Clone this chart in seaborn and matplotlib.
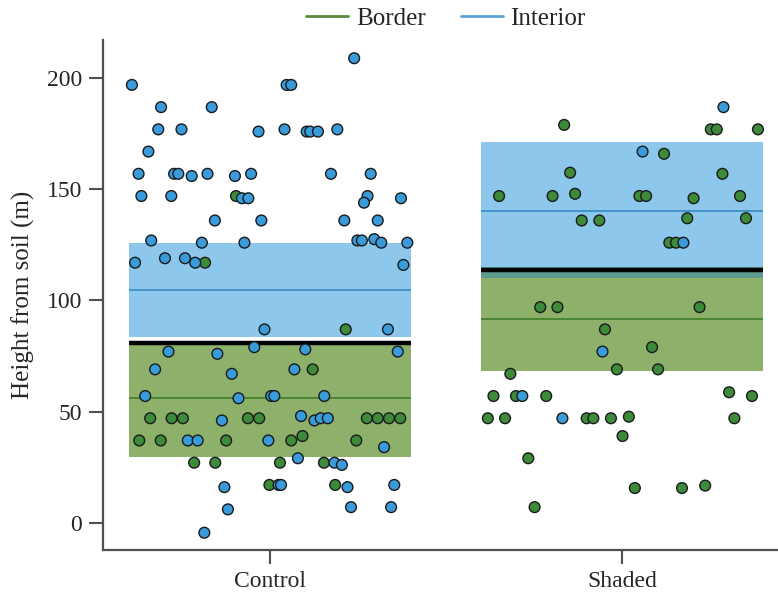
import numpy as np
import pandas as pd
import matplotlib
matplotlib.use("Agg")
import matplotlib.pyplot as plt
from matplotlib.lines import Line2D
import seaborn as sns

# ---------------- data ----------------
groups = ["Control", "Shaded"]
zones = ["Border", "Interior"]

# jitter offsets and heights (m)
ctrl_int_x = [-0.393, 0.239, 0.047, 0.060, -0.310, -0.166, -0.318, -0.252, -0.033, 0.041,
              0.104, 0.114, 0.136, 0.191, -0.346, -0.374, -0.273, -0.261, -0.223, -0.178,
              -0.100, -0.054, 0.173, 0.286, -0.366, -0.281, -0.080, -0.062, 0.277, 0.267,
              0.372, -0.157, -0.025, 0.211, 0.306, -0.338, -0.194, -0.073, 0.248, 0.261,
              0.296, 0.316, 0.390, -0.384, -0.299, -0.242, -0.213, 0.379, -0.016, 0.335,
              -0.289, -0.150, -0.045, 0.100, 0.363, -0.327, -0.109, 0.069, -0.355, -0.090,
              0.003, 0.012, 0.154, -0.137, 0.088, 0.126, 0.144, 0.164, -0.234, -0.206,
              -0.005, 0.324, 0.079, 0.183, 0.204, -0.130, 0.024, 0.031, 0.220, 0.353,
              -0.120, 0.230, 0.344, -0.187]
ctrl_int_y = [197, 209, 197, 197, 187, 187, 177, 177, 176, 177,
              176, 176, 176, 177, 167, 157, 157, 157, 156, 157,
              156, 157, 157, 157, 147, 147, 146, 146, 147, 144,
              146, 136, 136, 136, 136, 127, 126, 126, 127, 127,
              127.6, 126, 126, 117, 119, 119, 117, 116, 87, 87,
              77, 76, 79, 78, 77, 69, 67, 69, 57, 56,
              57, 57, 57, 46, 48, 46, 47, 47, 37, 37,
              37, 34, 29, 27, 26, 16, 17, 17, 16, 17,
              6, 7, 7, -4.5]
ctrl_bor_x = [-0.097, -0.185, 0.215, 0.121, -0.341, -0.280, -0.248, -0.063, -0.031, 0.275,
              0.306, 0.338, 0.370, -0.372, -0.311, -0.125, 0.060, 0.092, 0.245, -0.216,
              -0.156, 0.028, 0.153, -0.002, 0.185]
ctrl_bor_y = [147, 117, 87, 69, 47, 47, 47, 47, 47, 47,
              47, 47, 47, 37, 37, 37, 37, 39, 37, 27,
              27, 27, 27, 17, 17]
shd_int_x = [0.289, 0.059, 0.175, -0.055, -0.283, -0.169]
shd_int_y = [187, 167, 126, 77, 57, 47]
shd_bor_x = [-0.164, 0.253, 0.270, 0.387, 0.120, -0.147, 0.286, -0.349, -0.197, -0.133,
             0.050, 0.069, 0.204, 0.336, -0.114, -0.064, 0.186, 0.353, 0.135, 0.154,
             -0.232, -0.183, 0.221, -0.048, 0.086, -0.014, 0.103, -0.317, -0.365, -0.301,
             -0.215, 0.305, 0.370, -0.381, -0.332, -0.100, -0.081, -0.031, 0.020, 0.320,
             0.002, -0.266, 0.037, 0.171, 0.237, -0.248]
shd_bor_y = [179, 177, 177, 177, 166, 157.5, 157, 147, 147, 148,
             147, 147, 146, 147, 136, 136, 137, 137, 126, 126,
             97, 97, 97, 87, 79, 69, 69, 67, 57, 57,
             57, 58.7, 57, 47, 47, 47, 47, 47, 47.7, 47,
             39, 29, 15.6, 15.6, 16.7, 7]

# summary bands (lower, mean, upper) per group
border_low = [29.6, 68.3]
border_mean = [56.1, 91.7]
border_high = [80.9, 115.0]
interior_low = [83.6, 110.3]
interior_mean = [104.7, 140.3]
interior_high = [125.9, 171.3]
overall_mean = [80.9, 113.8]

# ---------------- styles ----------------
sns.set_style("ticks")
plt.rcParams["font.family"] = ["Liberation Serif", "DejaVu Serif"]

c_blue_pt = "#3A9BDA"
c_green_pt = "#3D8B3A"
c_blue_fill = "#8DC8EC"
c_green_fill = "#8DB06A"
c_overlap_fill = "#5E9A90"
c_blue_line = "#3E8EC6"
c_green_line = "#44832C"
spine_col = "#505050"

rows = []
for gi, (xs, ys) in enumerate([(ctrl_bor_x, ctrl_bor_y), (shd_bor_x, shd_bor_y)]):
    for x, y in zip(xs, ys):
        rows.append({"pos": gi + x, "height": y, "zone": "Border"})
for gi, (xs, ys) in enumerate([(ctrl_int_x, ctrl_int_y), (shd_int_x, shd_int_y)]):
    for x, y in zip(xs, ys):
        rows.append({"pos": gi + x, "height": y, "zone": "Interior"})
df = pd.DataFrame(rows)

fig = plt.figure(figsize=(7.78, 5.93), dpi=100)
ax = fig.add_axes([0.132, 0.0717, 0.868, 0.8608])

width = 0.8
xpos = np.arange(len(groups))
ilo, ihi = np.array(interior_low), np.array(interior_high)
blo, bhi = np.array(border_low), np.array(border_high)
ax.bar(xpos, ihi - ilo, bottom=ilo, width=width, color=c_blue_fill, zorder=1, linewidth=0)
ax.bar(xpos, bhi - blo, bottom=blo, width=width, color=c_green_fill, zorder=1, linewidth=0)
# overlap of the two bands
olo = np.maximum(ilo, blo)
ohi = np.minimum(ihi, bhi)
ov = np.clip(ohi - olo, 0, None)
ax.bar(xpos, ov, bottom=olo, width=width, color=c_overlap_fill, zorder=1, linewidth=0)

ax.hlines(interior_mean, xpos - width / 2, xpos + width / 2, color=c_blue_line, lw=1.3, zorder=2)
ax.hlines(border_mean, xpos - width / 2, xpos + width / 2, color=c_green_line, lw=1.3, zorder=2)
ax.hlines(overall_mean, xpos - width / 2, xpos + width / 2, color="black", lw=3.2, zorder=2)

sns.scatterplot(data=df, x="pos", y="height", hue="zone",
                palette={"Border": c_green_pt, "Interior": c_blue_pt},
                s=60, edgecolor="#1a1a1a", linewidth=1.0, legend=False, ax=ax, zorder=3)

ax.set_xlim(-0.476, 1.444)
ax.set_ylim(-12.5, 217.2)
ax.set_xticks(xpos)
ax.set_xticklabels(groups)
ax.set_yticks([0, 50, 100, 150, 200])
ax.set_xlabel("")
ax.set_ylabel("Height from soil (m)", fontsize=18, labelpad=8)
ax.tick_params(axis="both", labelsize=17, length=10, width=1.5, color=spine_col, pad=5)
for side in ["top", "right"]:
    ax.spines[side].set_visible(False)
for side in ["left", "bottom"]:
    ax.spines[side].set_color(spine_col)
    ax.spines[side].set_linewidth(1.6)

handles = [Line2D([0], [0], color="#5B8A3C", lw=2),
           Line2D([0], [0], color="#5BA3D6", lw=2)]
fig.legend(handles, zones, loc="center", bbox_to_anchor=(0.573, 0.968), ncol=2,
           frameon=False, fontsize=18, handlelength=1.7, handletextpad=0.3,
           columnspacing=1.4)

fig.savefig("out.png", dpi=100)
